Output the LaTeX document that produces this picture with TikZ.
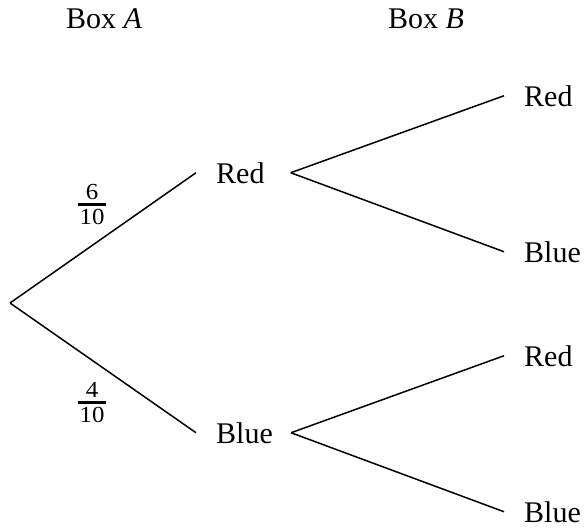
\documentclass[tikz,border=0pt]{standalone}
\usepackage{fontspec}
\setmainfont{Liberation Serif}
\newfontfamily\fracfont[FakeStretch=1.08]{Liberation Serif}
\newcommand{\myfrac}[2]{\vbox{\fracfont\fontsize{23}{25}\selectfont\offinterlineskip
  \halign{\hfil\kern1.5pt##\kern1.5pt\hfil\cr #1\cr
  \noalign{\kern3.5pt\hrule height 2.8pt\kern3.5pt}
  #2\cr}}}
\tikzset{
  lbl/.style={font=\fontsize{30}{36}\selectfont, inner xsep=20pt, inner ysep=0pt},
  fr/.style={font=\fontsize{30}{36}\selectfont, inner sep=0pt},
  branch/.style={line width=1.5pt, black},
}
\begin{document}
\begin{tikzpicture}[x=1pt,y=-1pt]
\useasboundingbox (0,0) rectangle (584,528);
\node[fr, anchor=base] (boxa) at (104,28) {Box \textit{A}};
\node[fr, anchor=base] (boxb) at (426,28) {Box \textit{B}};
\coordinate (root) at (10,303);
\node[lbl, anchor=base west] (r) at (196,183) {Red};
\node[lbl, anchor=base west] (b) at (196,443) {Blue};
\node[lbl, anchor=base west] (rr) at (504,106) {Red};
\node[lbl, anchor=base west] (rb) at (504,262) {Blue};
\node[lbl, anchor=base west] (br) at (504,366) {Red};
\node[lbl, anchor=base west] (bb) at (504,522) {Blue};
\draw[branch] (root) -- (r.west);
\draw[branch] (root) -- (b.west);
\draw[branch] ([xshift=6pt]r.east) -- (rr.west);
\draw[branch] ([xshift=6pt]r.east) -- (rb.west);
\draw[branch] ([xshift=-2pt]b.east) -- (br.west);
\draw[branch] ([xshift=-2pt]b.east) -- (bb.west);
\node[fr] (f1) at (92,204.5) {\myfrac{6}{10}};
\node[fr] (f2) at (92,402.5) {\myfrac{4}{10}};
\end{tikzpicture}
\end{document}
